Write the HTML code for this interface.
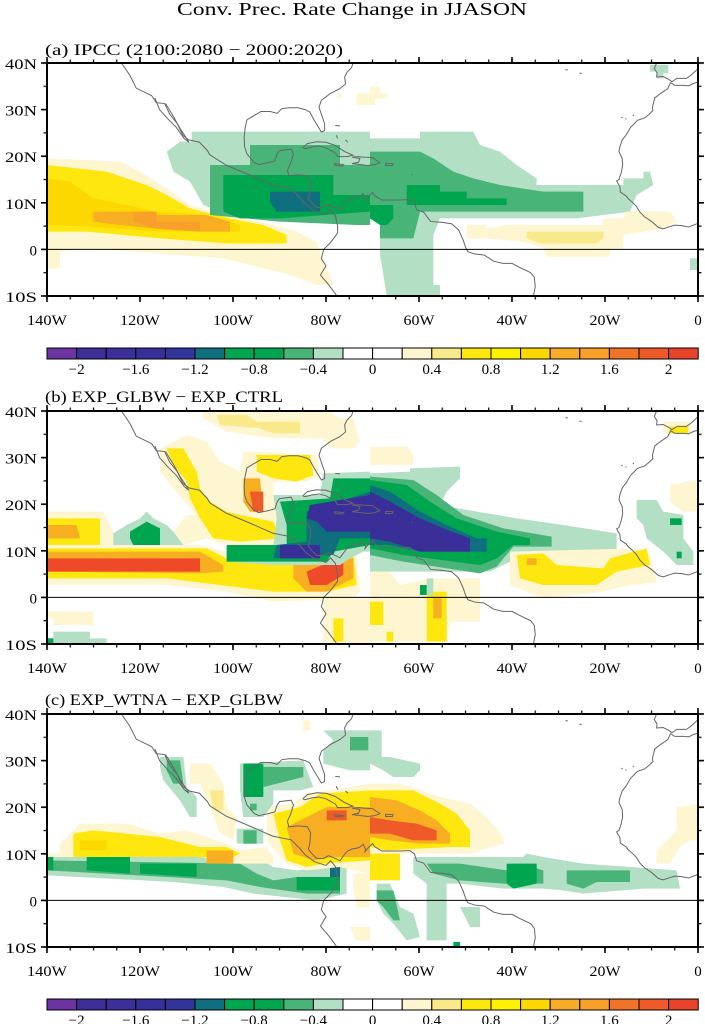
<!DOCTYPE html>
<html><head><meta charset="utf-8"><style>
html,body{margin:0;padding:0;background:#fff;}
svg{display:block;}
text{font-family:"Liberation Serif",serif;fill:#000;}
</style></head><body>
<svg width="705" height="1024" viewBox="0 0 705 1024" xmlns="http://www.w3.org/2000/svg">
<defs>
<clipPath id="ca"><rect x="47" y="63" width="651" height="233"/></clipPath>
<clipPath id="cb"><rect x="47" y="411" width="651" height="233"/></clipPath>
<clipPath id="cc"><rect x="47" y="714" width="651" height="233"/></clipPath>
<pattern id="xmin" patternUnits="userSpaceOnUse" x="46.4" y="0" width="23.25" height="10"><rect x="0" y="0" width="1.2" height="10" fill="#000"/></pattern>
<pattern id="xmaj" patternUnits="userSpaceOnUse" x="46.2" y="0" width="93" height="10"><rect x="0" y="0" width="1.6" height="10" fill="#000"/></pattern>
<pattern id="yminA" patternUnits="userSpaceOnUse" x="0" y="62.4" width="10" height="23.3"><rect x="0" y="0" width="10" height="1.2" fill="#000"/></pattern>
<pattern id="ymajA" patternUnits="userSpaceOnUse" x="0" y="62.2" width="10" height="46.6"><rect x="0" y="0" width="10" height="1.6" fill="#000"/></pattern>
<pattern id="yminB" patternUnits="userSpaceOnUse" x="0" y="410.4" width="10" height="23.3"><rect x="0" y="0" width="10" height="1.2" fill="#000"/></pattern>
<pattern id="ymajB" patternUnits="userSpaceOnUse" x="0" y="410.2" width="10" height="46.6"><rect x="0" y="0" width="10" height="1.6" fill="#000"/></pattern>
<pattern id="yminC" patternUnits="userSpaceOnUse" x="0" y="713.4" width="10" height="23.3"><rect x="0" y="0" width="10" height="1.2" fill="#000"/></pattern>
<pattern id="ymajC" patternUnits="userSpaceOnUse" x="0" y="713.2" width="10" height="46.6"><rect x="0" y="0" width="10" height="1.6" fill="#000"/></pattern>
<g id="coast" fill="none" stroke="#666" stroke-width="1" vector-effect="non-scaling-stroke">
<polyline vector-effect="non-scaling-stroke" points="-124,40 -122.2,37.4 -120.8,34.6 -117.5,33 -116.5,31.5 -114.7,31.3 -113.6,29 -112,27 -110.8,24.5 -109.5,23.5 -107.2,23 -105.5,21.2 -105,20.3 -101.5,18.1 -95.8,15.7 -91.5,13.8 -87.5,13 -85.5,11 -84.5,9.8 -82.5,8.3 -80,7.5 -79,8.5 -78,7.3 -77.5,5 -77.5,3.5 -79,1.5 -80.5,0 -81,-2 -80,-3.5 -81.2,-5.5 -79.5,-7.5 -78,-9.5 -77.3,-10.5"/>
<polyline vector-effect="non-scaling-stroke" points="-116.8,32.5 -115.8,30 -114,28 -112.2,26.2 -110.5,23.8 -109.5,23 -110.3,24.3 -111.3,25.8 -112.8,28.5 -114.5,31.3"/>
<polyline vector-effect="non-scaling-stroke" points="-74,40.6 -74.5,39 -75.5,38 -76,37 -75.8,35.5 -77,34.5 -79,33.5 -81,32 -81.5,30.5 -81,29 -80.3,27 -80.3,25.5 -81,25.2 -81.8,26.5 -82.7,28 -83.5,29.5 -84.5,30 -86,30.4 -88,30.4 -89.5,30.2 -90.5,29.2 -92,29.6 -94,29.6 -95,29 -97,27.8 -97.4,26 -97.6,24 -97.5,22 -97,20.5 -95.5,18.7 -94.5,18.2 -92.5,18.6 -91,19 -90.5,20.5 -90,21.2 -87.5,21.5 -87,20.5 -87.6,18.5 -88.3,17 -88,15.8 -86,16 -84,15.8 -83.3,14.5 -83.5,12 -83.8,11 -83,10 -82,9 -80.5,9 -79.5,9.6 -78,9 -77,8.5 -76.5,9.2 -75.5,10.5 -74.5,11 -73,11.3 -72,12 -71.5,11 -71.6,10.5 -71,11.2 -70,12.2 -69.5,11.5 -68,10.6 -66,10.6 -64,10.6 -62,10.7 -61,10 -60.5,8.5 -59,8 -57.5,6 -55,5.8 -53,5.5 -51.5,4.2 -50.5,2 -50,0.5 -49.5,-0.5 -48,-1 -46,-1.2 -44,-2.5 -42,-3 -40,-3 -38.5,-3.8 -36,-5 -35.2,-6 -35,-8 -35.5,-10.5"/>
<polyline vector-effect="non-scaling-stroke" points="-85,21.8 -84,22.7 -82,23.1 -80,23 -78,22.3 -76,21 -74.2,20.2 -75.5,19.9 -77.5,19.9 -78,20.7 -80,21.8 -81.5,22.2 -83,22 -84.5,21.6 -85,21.8"/>
<polyline vector-effect="non-scaling-stroke" points="-74.4,19.8 -73,19.9 -72,19.8 -70,19.7 -68.4,18.6 -69.5,18.2 -71,18 -72.5,18.2 -74.4,18.4 -73,18.7 -72.7,19.5 -74.4,19.8"/>
<polyline vector-effect="non-scaling-stroke" points="-78.3,18.4 -76.2,18.2 -76.5,17.9 -78,18 -78.3,18.4"/>
<polyline vector-effect="non-scaling-stroke" points="-67.2,18.5 -65.6,18.4 -65.7,18 -67.2,18 -67.2,18.5"/>
<polyline vector-effect="non-scaling-stroke" points="-78,26.6 -77,26.5"/>
<polyline vector-effect="non-scaling-stroke" points="-77.8,24.5 -77.5,23.8"/>
<polyline vector-effect="non-scaling-stroke" points="-75.8,23.5 -75.3,23"/>
<polyline vector-effect="non-scaling-stroke" points="-61.5,16.2 -61.4,15.9"/>
<polyline vector-effect="non-scaling-stroke" points="-8.9,40 -9.4,38.8 -8.8,37.9 -8.9,37 -7.5,37.1 -6.3,36.5 -5.6,36 -4.5,36.7 -2.5,36.7 -1.5,37.4 -0.5,38.3 0,38.8"/>
<polyline vector-effect="non-scaling-stroke" points="-5.9,35.8 -5,35.2 -3,35.2 -2,35.1 -1,35.6 0,35.9"/>
<polyline vector-effect="non-scaling-stroke" points="-5.9,35.8 -6.5,34.5 -8,33.5 -9.3,32.5 -9.8,30.5 -9.7,29.8 -10.5,29 -11.5,28.2 -13,27.7 -14.5,26.2 -15.5,24.5 -16.3,23.5 -16.8,22 -17,21 -16.3,19.5 -16.2,18 -16.5,16.5 -17,15 -17.5,14.7 -16.8,13.5 -16.7,12.3 -15.5,11.5 -15,10.9 -14,10 -13.3,9.3 -12.5,8 -11.5,7 -10,6 -8.5,4.7 -7.5,4.4 -6,4.9 -5,5.2 -3.5,5.1 -2,4.8 0,5.6"/>
<polyline vector-effect="non-scaling-stroke" points="-16.5,28.4 -16.2,28.2"/>
<polyline vector-effect="non-scaling-stroke" points="-15.6,28.1 -15.4,27.9"/>
<polyline vector-effect="non-scaling-stroke" points="-14,28.6 -13.8,28.9"/>
<polyline vector-effect="non-scaling-stroke" points="-25,37.8 -25.5,37.8"/>
<polyline vector-effect="non-scaling-stroke" points="-28,38.5 -28.5,38.6"/>
</g>
</defs>

<text x="352" y="15" font-size="18" text-anchor="middle" textLength="350" lengthAdjust="spacingAndGlyphs">Conv. Prec. Rate Change in JJASON</text>

<!-- PANEL A -->
<text x="45" y="55" font-size="16" textLength="298" lengthAdjust="spacingAndGlyphs">(a) IPCC (2100:2080 − 2000:2020)</text>
<g clip-path="url(#ca)">
<g transform="translate(40,55) scale(0.33333)">
<polygon fill="#fdf6d0" points="21,310 240,320 300,350 380,400 450,450 550,480 680,505 770,530 830,560 880,690 830,690 750,660 550,610 140,580 60,590 60,640 21,640"/>
<polygon fill="#fde70e" points="21,330 200,350 260,370 320,390 380,420 450,460 570,490 670,510 740,540 740,565 560,565 360,550 140,530 21,530"/>
<polygon fill="#fcd800" points="21,370 90,380 160,430 260,450 350,470 500,480 600,510 600,530 360,530 150,515 21,510"/>
<polygon fill="#f8ae23" points="160,470 280,470 360,480 500,480 570,500 570,530 480,530 340,520 240,510 160,500"/>
<polygon fill="#f7a12a" points="280,470 350,470 350,500 480,500 480,530 340,520 280,500"/>
<polygon fill="#b3dfc4" points="455,230 990,230 990,490 980,510 540,470 490,450 450,380 400,350 380,290 420,260 455,260"/>
<polygon fill="#48b478" points="510,330 630,330 630,270 900,270 900,330 990,330 990,510 950,510 720,500 510,480"/>
<polygon fill="#00a54f" points="550,360 880,360 880,420 990,420 990,470 720,490 600,490 550,470"/>
<polygon fill="#0f6f7f" points="690,410 840,410 840,470 710,470 690,440"/>
<polygon fill="#fdf6d0" points="950,115 990,115 990,150 950,150"/>
<polygon fill="#fdf6d0" points="890,115 905,115 905,130 890,130"/>
</g>
<g transform="translate(370,55) scale(0.33333)">
<polygon fill="#b3dfc4" points="0,250 150,250 150,230 310,230 330,270 390,290 440,330 500,370 500,390 760,390 760,370 820,370 820,350 840,350 850,390 800,420 780,470 620,490 210,490 190,540 190,690 210,690 210,720 50,720 30,600 30,490 0,490"/>
<polygon fill="#48b478" points="0,290 150,290 190,310 250,350 310,370 390,390 520,410 640,410 640,470 150,470 130,550 30,550 30,490 0,490"/>
<polygon fill="#00a54f" points="0,450 70,450 70,490 50,510 30,510 0,490"/>
<polygon fill="#00a54f" points="110,390 210,390 210,410 290,410 290,430 410,430 410,450 110,450"/>
<polygon fill="#fdf6d0" points="290,510 350,510 350,520 410,510 700,510 700,490 760,490 770,470 900,470 920,500 880,520 760,540 760,580 720,580 720,605 530,605 520,580 460,560 350,550 290,550"/>
<polygon fill="#f8ea8a" points="470,530 700,530 700,550 680,565 510,565 470,550"/>
<polygon fill="#b3dfc4" points="960,610 985,610 985,645 960,645"/>
<polygon fill="#b3dfc4" points="840,30 895,30 895,55 880,55 880,70 860,70 860,50 840,50"/>
<polygon fill="#fdf6d0" points="0,95 30,95 30,115 50,115 50,130 15,130 15,150 0,150"/>
</g>
<use href="#coast" transform="translate(698,249.4) scale(4.65,-4.66)"/>
<line x1="47" y1="249.4" x2="698" y2="249.4" stroke="#000" stroke-width="1"/>
</g>
<rect x="47" y="63" width="651" height="233" fill="none" stroke="#000" stroke-width="2"/>
<rect x="46" y="296" width="653" height="3.5" fill="url(#xmin)"/>
<rect x="46" y="296" width="653" height="6" fill="url(#xmaj)"/>
<rect x="46" y="59.5" width="653" height="3.5" fill="url(#xmin)"/>
<rect x="46" y="57" width="653" height="6" fill="url(#xmaj)"/>
<rect x="43.5" y="62" width="3.5" height="235" fill="url(#yminA)"/>
<rect x="41" y="62" width="6" height="235" fill="url(#ymajA)"/>
<rect x="698" y="62" width="3.5" height="235" fill="url(#yminA)"/>
<rect x="698" y="62" width="6" height="235" fill="url(#ymajA)"/>
<g font-size="15" text-anchor="end">
<text x="37" y="69" textLength="32" lengthAdjust="spacingAndGlyphs">40N</text>
<text x="37" y="115.6" textLength="32" lengthAdjust="spacingAndGlyphs">30N</text>
<text x="37" y="162.2" textLength="32" lengthAdjust="spacingAndGlyphs">20N</text>
<text x="37" y="208.8" textLength="32" lengthAdjust="spacingAndGlyphs">10N</text>
<text x="37" y="255.4">0</text>
<text x="37" y="302" textLength="32" lengthAdjust="spacingAndGlyphs">10S</text>
</g>
<g font-size="15" text-anchor="middle">
<text x="47" y="325" textLength="40" lengthAdjust="spacingAndGlyphs">140W</text>
<text x="140" y="325" textLength="40" lengthAdjust="spacingAndGlyphs">120W</text>
<text x="233" y="325" textLength="40" lengthAdjust="spacingAndGlyphs">100W</text>
<text x="326" y="325" textLength="31" lengthAdjust="spacingAndGlyphs">80W</text>
<text x="419" y="325" textLength="31" lengthAdjust="spacingAndGlyphs">60W</text>
<text x="512" y="325" textLength="31" lengthAdjust="spacingAndGlyphs">40W</text>
<text x="605" y="325" textLength="31" lengthAdjust="spacingAndGlyphs">20W</text>
<text x="698" y="325">0</text>
</g>

<!-- COLORBAR 1 -->
<g stroke="#000" stroke-width="1">
<rect x="47" y="348" width="29.6" height="11" fill="#6b34a0"/>
<rect x="76.6" y="348" width="29.6" height="11" fill="#3d2e98"/>
<rect x="106.2" y="348" width="29.6" height="11" fill="#3b2f9a"/>
<rect x="135.8" y="348" width="29.6" height="11" fill="#38309a"/>
<rect x="165.4" y="348" width="29.6" height="11" fill="#32349a"/>
<rect x="195" y="348" width="29.6" height="11" fill="#0f6f7f"/>
<rect x="224.6" y="348" width="29.6" height="11" fill="#00a54f"/>
<rect x="254.2" y="348" width="29.6" height="11" fill="#00a54f"/>
<rect x="283.8" y="348" width="29.6" height="11" fill="#48b478"/>
<rect x="313.4" y="348" width="29.6" height="11" fill="#b3dfc4"/>
<rect x="343" y="348" width="29.6" height="11" fill="#ffffff"/>
<rect x="372.6" y="348" width="29.6" height="11" fill="#ffffff"/>
<rect x="402.2" y="348" width="29.6" height="11" fill="#fdf6d0"/>
<rect x="431.8" y="348" width="29.6" height="11" fill="#f8ea8a"/>
<rect x="461.4" y="348" width="29.6" height="11" fill="#fde70e"/>
<rect x="491" y="348" width="29.6" height="11" fill="#fff200"/>
<rect x="520.6" y="348" width="29.6" height="11" fill="#fcd800"/>
<rect x="550.2" y="348" width="29.6" height="11" fill="#f8ac27"/>
<rect x="579.8" y="348" width="29.6" height="11" fill="#f7a12a"/>
<rect x="609.4" y="348" width="29.6" height="11" fill="#f07427"/>
<rect x="639" y="348" width="29.6" height="11" fill="#ef5b28"/>
<rect x="668.6" y="348" width="29.6" height="11" fill="#e8442b"/>
</g>
<g font-size="15" text-anchor="middle">
<text x="76.6" y="374">−2</text><text x="135.8" y="374">−1.6</text><text x="195" y="374">−1.2</text><text x="254.2" y="374">−0.8</text><text x="313.4" y="374">−0.4</text><text x="372.6" y="374">0</text><text x="431.8" y="374">0.4</text><text x="491" y="374">0.8</text><text x="550.2" y="374">1.2</text><text x="609.4" y="374">1.6</text><text x="668.6" y="374">2</text>
</g>

<!-- PANEL B -->
<text x="45" y="402" font-size="16" textLength="238" lengthAdjust="spacingAndGlyphs">(b) EXP_GLBW − EXP_CTRL</text>
<g clip-path="url(#cb)">
<g transform="translate(40,405) scale(0.33333)">
<polygon fill="#fdf6d0" points="490,20 870,20 900,40 940,40 960,110 940,130 870,130 850,100 700,100 560,80 490,40"/>
<polygon fill="#f8ea8a" points="530,30 620,30 650,50 780,50 780,85 700,85 660,70 540,60"/>
<polygon fill="#fdf6d0" points="360,130 440,90 500,110 540,170 600,200 610,140 650,140 830,150 840,210 800,230 700,230 700,270 710,340 760,400 700,420 560,420 500,400 430,420 400,380 440,330 470,330 400,250 360,200"/>
<polygon fill="#fde70e" points="380,130 430,130 470,200 480,250 510,290 560,320 600,330 700,350 720,400 600,410 520,400 480,340 450,280 440,230 400,180"/>
<polygon fill="#fde70e" points="650,150 810,150 820,210 770,230 700,220 650,200"/>
<polygon fill="#f8ae23" points="610,220 660,220 670,320 630,320 610,290"/>
<polygon fill="#ef5b28" points="630,260 670,260 670,320 640,320"/>
<polygon fill="#fdf6d0" points="21,320 190,320 220,380 260,420 480,420 560,440 720,420 760,400 900,460 950,440 960,560 940,580 700,590 560,560 380,540 21,540"/>
<polygon fill="#fde70e" points="21,340 180,340 180,420 21,420"/>
<polygon fill="#fde70e" points="21,430 500,430 560,460 700,470 760,470 940,450 950,540 860,560 700,560 540,540 380,520 21,520"/>
<polygon fill="#f8ae23" points="21,360 110,360 120,400 21,400"/>
<polygon fill="#f8ae23" points="21,440 480,440 550,480 550,500 480,505 21,500"/>
<polygon fill="#f8ae23" points="760,480 860,460 940,460 940,520 860,560 800,560 760,520"/>
<polygon fill="#ee4a2a" points="21,460 480,460 480,500 21,500"/>
<polygon fill="#ee4a2a" points="800,500 870,470 910,470 910,510 860,540 810,540"/>
<polygon fill="#b3dfc4" points="220,385 260,360 300,340 320,320 340,340 380,360 400,380 430,420 220,420"/>
<polygon fill="#00a54f" points="270,380 320,350 360,370 360,420 280,420 270,400"/>
<polygon fill="#b3dfc4" points="700,270 840,270 850,205 990,200 990,440 970,440 930,460 900,480 700,480 560,470 560,420 700,420 710,340"/>
<polygon fill="#00a54f" points="720,290 870,280 880,220 990,220 990,420 880,440 860,470 560,470 560,420 740,420 740,360"/>
<polygon fill="#0f6f7f" points="800,320 870,300 990,260 990,400 900,400 880,450 700,460 710,420 800,410"/>
<polygon fill="#3a2f99" points="810,300 990,270 990,380 860,380 830,350 800,340"/>
<polygon fill="#3a2f99" points="720,420 840,420 840,460 720,460"/>
<polygon fill="#fdf6d0" points="21,620 160,620 160,660 40,660 40,640 21,640"/>
<polygon fill="#b3dfc4" points="40,680 150,680 150,700 200,700 200,718 21,718 21,700 40,700"/>
<polygon fill="#00a54f" points="21,700 40,700 40,718 21,718"/>
<polygon fill="#fdf6d0" points="850,580 990,580 990,718 850,718"/>
<polygon fill="#fde70e" points="880,640 910,640 910,710 880,710"/>
</g>
<g transform="translate(370,405) scale(0.33333)">
<polygon fill="#fdf6d0" points="0,125 110,125 130,150 130,180 0,180"/>
<polygon fill="#b3dfc4" points="0,205 120,200 120,190 270,185 270,220 230,260 210,300 320,320 440,340 580,360 740,385 740,440 640,440 440,440 420,470 360,500 0,500"/>
<polygon fill="#48b478" points="0,215 130,225 200,270 280,330 400,370 545,395 545,425 430,425 380,485 330,505 100,470 0,450"/>
<polygon fill="#00a54f" points="0,225 110,240 180,290 260,340 380,380 480,400 480,420 430,420 380,460 330,480 100,450 0,430"/>
<polygon fill="#0f6f7f" points="0,240 60,260 150,320 230,360 320,400 350,400 350,440 150,440 60,420 0,420"/>
<polygon fill="#3a2f99" points="0,260 60,290 150,340 220,370 300,400 300,440 150,440 60,410 0,400"/>
<polygon fill="#fdf6d0" points="420,440 800,430 840,450 860,530 760,545 700,560 520,580 420,540"/>
<polygon fill="#fde70e" points="440,450 520,445 560,480 700,490 720,460 830,430 840,480 740,500 680,540 520,540 450,520"/>
<polygon fill="#f8ae23" points="470,460 500,460 500,480 470,480"/>
<polygon fill="#b3dfc4" points="800,285 860,285 880,320 940,330 940,400 970,440 970,480 920,480 880,440 830,400 820,360 800,340"/>
<polygon fill="#00a54f" points="900,340 935,340 935,360 900,360"/>
<polygon fill="#00a54f" points="920,440 935,440 935,460 920,460"/>
<polygon fill="#fdf6d0" points="900,240 980,225 980,320 940,320 900,290"/>
<polygon fill="#fdf6d0" points="880,50 960,50 960,85 880,85"/>
<polygon fill="#fde70e" points="900,65 955,65 955,85 900,85"/>
<polygon fill="#fdf6d0" points="0,500 60,500 90,540 180,520 330,520 330,650 240,650 230,710 0,710"/>
<polygon fill="#fde70e" points="170,560 230,560 230,710 170,710"/>
<polygon fill="#f8ae23" points="190,580 215,580 215,640 190,640"/>
<polygon fill="#fde70e" points="0,590 40,590 40,660 0,660"/>
<polygon fill="#fde70e" points="50,680 70,680 70,710 50,710"/>
<polygon fill="#b3dfc4" points="170,520 190,520 190,570 170,570"/>
<polygon fill="#00a54f" points="150,540 170,540 170,570 150,570"/>
</g>
<use href="#coast" transform="translate(698,597.4) scale(4.65,-4.66)"/>
<line x1="47" y1="597.4" x2="698" y2="597.4" stroke="#000" stroke-width="1"/>
</g>
<rect x="47" y="411" width="651" height="233" fill="none" stroke="#000" stroke-width="2"/>
<rect x="46" y="644" width="653" height="3.5" fill="url(#xmin)"/>
<rect x="46" y="644" width="653" height="6" fill="url(#xmaj)"/>
<rect x="46" y="407.5" width="653" height="3.5" fill="url(#xmin)"/>
<rect x="46" y="405" width="653" height="6" fill="url(#xmaj)"/>
<rect x="43.5" y="410" width="3.5" height="235" fill="url(#yminB)"/>
<rect x="41" y="410" width="6" height="235" fill="url(#ymajB)"/>
<rect x="698" y="410" width="3.5" height="235" fill="url(#yminB)"/>
<rect x="698" y="410" width="6" height="235" fill="url(#ymajB)"/>
<g font-size="15" text-anchor="end">
<text x="37" y="417" textLength="32" lengthAdjust="spacingAndGlyphs">40N</text>
<text x="37" y="463.6" textLength="32" lengthAdjust="spacingAndGlyphs">30N</text>
<text x="37" y="510.2" textLength="32" lengthAdjust="spacingAndGlyphs">20N</text>
<text x="37" y="556.8" textLength="32" lengthAdjust="spacingAndGlyphs">10N</text>
<text x="37" y="603.4">0</text>
<text x="37" y="650" textLength="32" lengthAdjust="spacingAndGlyphs">10S</text>
</g>
<g font-size="15" text-anchor="middle">
<text x="47" y="673" textLength="40" lengthAdjust="spacingAndGlyphs">140W</text>
<text x="140" y="673" textLength="40" lengthAdjust="spacingAndGlyphs">120W</text>
<text x="233" y="673" textLength="40" lengthAdjust="spacingAndGlyphs">100W</text>
<text x="326" y="673" textLength="31" lengthAdjust="spacingAndGlyphs">80W</text>
<text x="419" y="673" textLength="31" lengthAdjust="spacingAndGlyphs">60W</text>
<text x="512" y="673" textLength="31" lengthAdjust="spacingAndGlyphs">40W</text>
<text x="605" y="673" textLength="31" lengthAdjust="spacingAndGlyphs">20W</text>
<text x="698" y="673">0</text>
</g>

<!-- PANEL C -->
<text x="45" y="705" font-size="16" textLength="238" lengthAdjust="spacingAndGlyphs">(c) EXP_WTNA − EXP_GLBW</text>
<g clip-path="url(#cc)">
<g transform="translate(40,707) scale(0.33333)">
<polygon fill="#b3dfc4" points="21,450 650,450 700,480 770,490 860,480 920,480 920,560 830,580 640,560 550,540 400,525 21,505"/>
<polygon fill="#48b478" points="21,460 600,470 650,500 700,520 770,510 900,510 900,560 800,560 660,540 560,520 380,510 21,490"/>
<polygon fill="#00a54f" points="21,450 40,450 40,490 21,490"/>
<polygon fill="#00a54f" points="140,450 270,450 270,500 140,490"/>
<polygon fill="#00a54f" points="300,470 470,470 470,510 300,500"/>
<polygon fill="#00a54f" points="770,510 900,510 900,550 770,550"/>
<polygon fill="#0f6f7f" points="870,460 900,460 900,510 870,510"/>
<polygon fill="#fdf6d0" points="60,410 100,370 120,350 260,350 360,380 440,370 560,410 600,430 680,420 700,450 700,470 560,470 480,450 21,450 21,440 60,440"/>
<polygon fill="#fde70e" points="100,380 160,370 360,390 480,420 560,420 600,440 560,460 480,450 100,450"/>
<polygon fill="#fcd800" points="120,400 200,400 200,430 120,430"/>
<polygon fill="#f8ae23" points="500,430 580,430 580,470 500,470"/>
<polygon fill="#fdf6d0" points="680,300 760,290 800,260 990,230 990,500 900,480 800,490 740,470 680,400"/>
<polygon fill="#fde70e" points="700,320 780,300 840,260 990,250 990,460 850,470 800,480 740,460 720,400"/>
<polygon fill="#f8ae23" points="740,360 800,330 860,300 990,300 990,450 880,450 820,460 760,440"/>
<polygon fill="#ef5b28" points="860,310 920,310 920,340 860,340"/>
<polygon fill="#b3dfc4" points="600,170 790,160 820,240 780,250 700,250 700,290 670,330 610,330 600,250"/>
<polygon fill="#48b478" points="670,180 790,180 790,210 670,240"/>
<polygon fill="#00a54f" points="610,170 670,170 670,270 610,270"/>
<polygon fill="#48b478" points="630,290 650,290 650,310 630,310"/>
<polygon fill="#b3dfc4" points="590,365 670,365 670,410 590,410"/>
<polygon fill="#48b478" points="610,370 650,370 650,410 610,410"/>
<polygon fill="#b3dfc4" points="360,150 430,150 440,240 470,270 470,330 450,330 420,280 370,220 360,180"/>
<polygon fill="#48b478" points="380,160 420,160 430,230 400,230 380,190"/>
<polygon fill="#fdf6d0" points="450,170 510,170 550,230 560,300 590,330 580,400 540,380 510,300 480,230 450,230"/>
<polygon fill="#f8ea8a" points="510,250 550,250 550,310 520,310"/>
<polygon fill="#b3dfc4" points="850,70 990,70 990,190 930,190 850,170 850,130 880,100"/>
<polygon fill="#48b478" points="930,90 985,90 985,130 930,130"/>
<polygon fill="#fdf6d0" points="790,40 810,40 810,70 790,70"/>
<polygon fill="#fdf6d0" points="940,500 990,500 990,600 950,600 940,550"/>
<polygon fill="#fdf6d0" points="930,660 990,660 990,700 950,700"/>
</g>
<g transform="translate(370,707) scale(0.33333)">
<polygon fill="#fdf6d0" points="0,230 90,230 210,270 300,290 350,330 400,390 400,410 300,440 50,440 0,440"/>
<polygon fill="#fde70e" points="0,250 130,250 210,290 260,320 300,370 300,420 240,420 50,430 0,420"/>
<polygon fill="#f8ae23" points="0,270 80,280 150,310 200,340 240,380 240,410 150,410 60,400 0,390"/>
<polygon fill="#ef5b28" points="0,330 60,340 140,350 200,370 200,400 130,400 60,380 0,380"/>
<polygon fill="#fde70e" points="0,440 90,440 90,520 0,520"/>
<polygon fill="#b3dfc4" points="130,450 460,450 470,440 520,450 640,470 920,490 930,545 820,545 640,560 580,550 520,545 400,545 270,530 230,530 230,700 170,700 170,530 130,500"/>
<polygon fill="#48b478" points="170,470 270,470 410,490 450,470 520,490 520,530 400,530 270,520 190,500"/>
<polygon fill="#00a54f" points="410,470 500,470 500,530 430,545 410,530"/>
<polygon fill="#48b478" points="590,490 780,490 780,525 680,525 640,545 590,530"/>
<polygon fill="#b3dfc4" points="20,530 60,530 90,600 130,620 150,690 110,700 70,650 40,620 20,580"/>
<polygon fill="#48b478" points="20,550 70,550 90,640 70,640 40,600 20,580"/>
<polygon fill="#b3dfc4" points="270,600 330,600 330,660 300,660"/>
<polygon fill="#00a54f" points="250,705 270,705 270,718 250,718"/>
<polygon fill="#b3dfc4" points="0,70 35,70 35,150 60,150 150,170 150,190 130,210 70,210 40,190 0,170"/>
<polygon fill="#fdf6d0" points="920,300 1000,290 1000,400 960,400 930,420 900,470 860,470 860,430 880,410 920,370"/>
</g>
<use href="#coast" transform="translate(698,900.4) scale(4.65,-4.66)"/>
<line x1="47" y1="900.4" x2="698" y2="900.4" stroke="#000" stroke-width="1"/>
</g>
<rect x="47" y="714" width="651" height="233" fill="none" stroke="#000" stroke-width="2"/>
<rect x="46" y="947" width="653" height="3.5" fill="url(#xmin)"/>
<rect x="46" y="947" width="653" height="6" fill="url(#xmaj)"/>
<rect x="46" y="710.5" width="653" height="3.5" fill="url(#xmin)"/>
<rect x="46" y="708" width="653" height="6" fill="url(#xmaj)"/>
<rect x="43.5" y="713" width="3.5" height="235" fill="url(#yminC)"/>
<rect x="41" y="713" width="6" height="235" fill="url(#ymajC)"/>
<rect x="698" y="713" width="3.5" height="235" fill="url(#yminC)"/>
<rect x="698" y="713" width="6" height="235" fill="url(#ymajC)"/>
<g font-size="15" text-anchor="end">
<text x="37" y="720" textLength="32" lengthAdjust="spacingAndGlyphs">40N</text>
<text x="37" y="766.6" textLength="32" lengthAdjust="spacingAndGlyphs">30N</text>
<text x="37" y="813.2" textLength="32" lengthAdjust="spacingAndGlyphs">20N</text>
<text x="37" y="859.8" textLength="32" lengthAdjust="spacingAndGlyphs">10N</text>
<text x="37" y="906.4">0</text>
<text x="37" y="953" textLength="32" lengthAdjust="spacingAndGlyphs">10S</text>
</g>
<g font-size="15" text-anchor="middle">
<text x="47" y="976" textLength="40" lengthAdjust="spacingAndGlyphs">140W</text>
<text x="140" y="976" textLength="40" lengthAdjust="spacingAndGlyphs">120W</text>
<text x="233" y="976" textLength="40" lengthAdjust="spacingAndGlyphs">100W</text>
<text x="326" y="976" textLength="31" lengthAdjust="spacingAndGlyphs">80W</text>
<text x="419" y="976" textLength="31" lengthAdjust="spacingAndGlyphs">60W</text>
<text x="512" y="976" textLength="31" lengthAdjust="spacingAndGlyphs">40W</text>
<text x="605" y="976" textLength="31" lengthAdjust="spacingAndGlyphs">20W</text>
<text x="698" y="976">0</text>
</g>

<!-- COLORBAR 2 -->
<g stroke="#000" stroke-width="1">
<rect x="47" y="999" width="29.6" height="11" fill="#6b34a0"/>
<rect x="76.6" y="999" width="29.6" height="11" fill="#3d2e98"/>
<rect x="106.2" y="999" width="29.6" height="11" fill="#3b2f9a"/>
<rect x="135.8" y="999" width="29.6" height="11" fill="#38309a"/>
<rect x="165.4" y="999" width="29.6" height="11" fill="#32349a"/>
<rect x="195" y="999" width="29.6" height="11" fill="#0f6f7f"/>
<rect x="224.6" y="999" width="29.6" height="11" fill="#00a54f"/>
<rect x="254.2" y="999" width="29.6" height="11" fill="#00a54f"/>
<rect x="283.8" y="999" width="29.6" height="11" fill="#48b478"/>
<rect x="313.4" y="999" width="29.6" height="11" fill="#b3dfc4"/>
<rect x="343" y="999" width="29.6" height="11" fill="#ffffff"/>
<rect x="372.6" y="999" width="29.6" height="11" fill="#ffffff"/>
<rect x="402.2" y="999" width="29.6" height="11" fill="#fdf6d0"/>
<rect x="431.8" y="999" width="29.6" height="11" fill="#f8ea8a"/>
<rect x="461.4" y="999" width="29.6" height="11" fill="#fde70e"/>
<rect x="491" y="999" width="29.6" height="11" fill="#fff200"/>
<rect x="520.6" y="999" width="29.6" height="11" fill="#fcd800"/>
<rect x="550.2" y="999" width="29.6" height="11" fill="#f8ac27"/>
<rect x="579.8" y="999" width="29.6" height="11" fill="#f7a12a"/>
<rect x="609.4" y="999" width="29.6" height="11" fill="#f07427"/>
<rect x="639" y="999" width="29.6" height="11" fill="#ef5b28"/>
<rect x="668.6" y="999" width="29.6" height="11" fill="#e8442b"/>
</g>
<g font-size="15" text-anchor="middle">
<text x="76.6" y="1025">−2</text><text x="135.8" y="1025">−1.6</text><text x="195" y="1025">−1.2</text><text x="254.2" y="1025">−0.8</text><text x="313.4" y="1025">−0.4</text><text x="372.6" y="1025">0</text><text x="431.8" y="1025">0.4</text><text x="491" y="1025">0.8</text><text x="550.2" y="1025">1.2</text><text x="609.4" y="1025">1.6</text><text x="668.6" y="1025">2</text>
</g>
</svg>
</body></html>
